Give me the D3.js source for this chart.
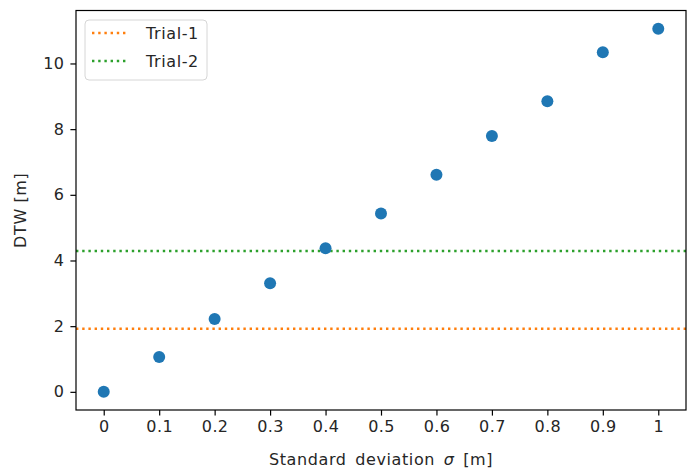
<!DOCTYPE html>
<html>
<head>
<meta charset="utf-8">
<script src="https://cdn.jsdelivr.net/npm/d3@7"></script>
<style>
  body { margin: 0; background: #fff; }
  text { font-family: "DejaVu Sans", sans-serif; fill: #262626; }
</style>
</head>
<body>
<div class="canvas"></div>
<script>
// data
const sigma = [0, 0.1, 0.2, 0.3, 0.4, 0.5, 0.6, 0.7, 0.8, 0.9, 1];
const dtw = [0, 1.06, 2.22, 3.31, 4.37, 5.43, 6.61, 7.79, 8.85, 10.34, 11.06];
const trialNames = ['Trial-1', 'Trial-2'];
const trialValues = [1.92, 4.29];
const xTickLabels = ['0', '0.1', '0.2', '0.3', '0.4', '0.5', '0.6', '0.7', '0.8', '0.9', '1'];
const yTicks = [0, 2, 4, 6, 8, 10];

const dims = { width: 688, height: 471 };
const margin = { top: 10.5, right: 2, bottom: 61, left: 76 };
const trialColour = d3.scaleOrdinal().domain(trialNames).range(['#ff7f0e', '#2ca02c']);

const svg = d3.select('.canvas')
    .append('svg')
    .attr('width', dims.width)
    .attr('height', dims.height);

const x = d3.scaleLinear()
    .domain([-0.05, 1.05])
    .range([margin.left, dims.width - margin.right]);

const yMax = d3.max(dtw);
const y = d3.scaleLinear()
    .domain([-0.05 * yMax, 1.05 * yMax])
    .range([dims.height - margin.bottom, margin.top]);

// horizontal trial lines
svg.append('g')
    .selectAll('line')
    .data(trialNames)
    .enter()
    .append('line')
    .attr('x1', x.range()[0])
    .attr('x2', x.range()[1])
    .attr('y1', (d, i) => y(trialValues[i]))
    .attr('y2', (d, i) => y(trialValues[i]))
    .attr('stroke', d => trialColour(d))
    .attr('stroke-width', 2.4)
    .attr('stroke-dasharray', '2.4,3.8');

// scatter points
svg.append('g')
    .selectAll('circle')
    .data(sigma)
    .enter()
    .append('circle')
    .attr('cx', d => x(d))
    .attr('cy', (d, i) => y(dtw[i]))
    .attr('r', 6)
    .attr('fill', '#1f77b4');

// axes
const xAxis = d3.axisBottom(x)
    .tickValues(sigma)
    .tickFormat((d, i) => xTickLabels[i])
    .tickSize(5.6)
    .tickPadding(5);

const yAxis = d3.axisLeft(y)
    .tickValues(yTicks)
    .tickSize(5.6)
    .tickPadding(6);

const xg = svg.append('g')
    .attr('transform', `translate(0, ${y.range()[0]})`)
    .call(xAxis);

const yg = svg.append('g')
    .attr('transform', `translate(${x.range()[0]}, 0)`)
    .call(yAxis);

[xg, yg].forEach(g => {
    g.select('.domain').remove();
    g.selectAll('line').attr('stroke', '#000').attr('stroke-width', 1.2);
    g.selectAll('text').attr('font-size', 16).attr('fill', '#262626')
        .attr('letter-spacing', 0.4)
        .style('font-family', '"DejaVu Sans", sans-serif');
});

// frame
svg.append('rect')
    .attr('x', x.range()[0])
    .attr('y', y.range()[1])
    .attr('width', x.range()[1] - x.range()[0])
    .attr('height', y.range()[0] - y.range()[1])
    .attr('fill', 'none')
    .attr('stroke', '#000')
    .attr('stroke-width', 1.2);

// axis labels
const xLabel = svg.append('text')
    .attr('x', (x.range()[0] + x.range()[1]) / 2)
    .attr('y', 465)
    .attr('text-anchor', 'middle')
    .attr('font-size', 16)
    .attr('letter-spacing', 0.6)
    .attr('word-spacing', 3);

xLabel.append('tspan').text('Standard deviation ');
xLabel.append('tspan').attr('font-style', 'italic').text('σ');
xLabel.append('tspan').text(' [m]');

svg.append('text')
    .attr('transform', `translate(26, ${(y.range()[0] + y.range()[1]) / 2}) rotate(-90)`)
    .attr('text-anchor', 'middle')
    .attr('font-size', 16)
    .attr('letter-spacing', 0.6)
    .text('DTW [m]');

// legend
const legendGroup = svg.append('g')
    .attr('transform', 'translate(85, 20)');

legendGroup.append('rect')
    .attr('width', 122)
    .attr('height', 60)
    .attr('rx', 4)
    .attr('fill', '#fff')
    .attr('fill-opacity', 0.8)
    .attr('stroke', '#d6d6d6');

const items = legendGroup.selectAll('g.item')
    .data(trialNames)
    .enter()
    .append('g')
    .attr('class', 'item')
    .attr('transform', (d, i) => `translate(0, ${13 + i * 28})`);

items.append('line')
    .attr('x1', 7)
    .attr('x2', 41)
    .attr('stroke', d => trialColour(d))
    .attr('stroke-width', 2.4)
    .attr('stroke-dasharray', '2.4,3.8');

items.append('text')
    .attr('x', 61)
    .attr('y', 6)
    .attr('font-size', 16)
    .attr('letter-spacing', 0.6)
    .text(d => d);
</script>
</body>
</html>
